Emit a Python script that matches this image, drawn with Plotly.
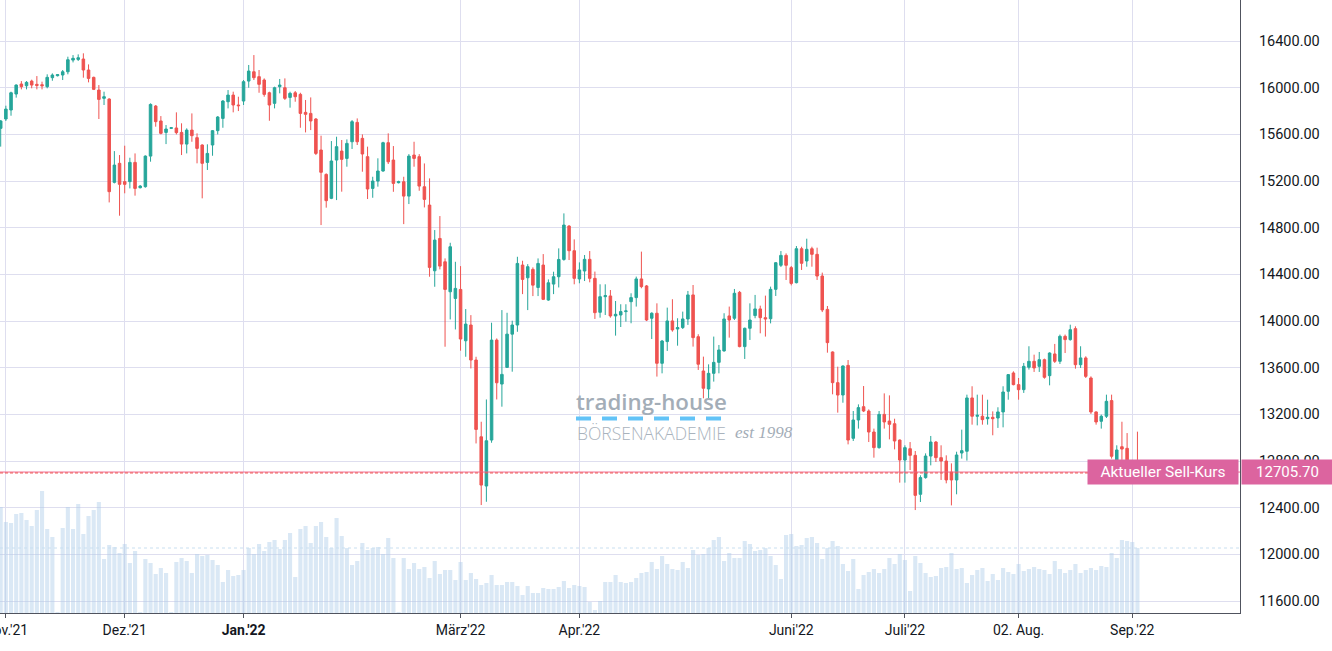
import plotly.graph_objects as go

# ---- data ----
open_ = [15652,15732,15809,15946,16032,16017,16057,16029,16026,16009,16086,16103,16109,16137,16237,16243,16246,16152,16089,15980,
         15909,15903,15189,15352,15195,15195,15360,15143,15152,15414,15843,15715,15617,15652,15655,15617,15517,15637,15572,15509,
         15360,15509,15632,15737,15880,15937,15852,15886,16057,16137,16095,16066,15957,15866,16009,16000,15917,15957,15943,15789,
         15780,15732,15466,15257,15052,15380,15457,15394,15537,15703,15566,15409,15137,15200,15286,15529,15380,15186,15194,15071,
         15423,15409,15151,14994,14431,14708,14508,14251,14194,14271,13831,13966,13666,13008,12586,12980,13837,13460,13603,13888,
         13966,14480,14371,14443,14288,14480,14180,14317,14380,14528,14814,14603,14361,14429,14529,14366,14075,14209,14215,14044,
         14052,14081,14166,14201,14361,14301,14024,14067,13638,13824,14001,13932,13944,14018,14224,13866,13572,13418,13552,13646,
         13744,14044,14024,14246,13781,13938,14047,14104,14029,14020,14272,14478,14563,14458,14329,14620,14515,14620,14572,14386,
         14100,13735,13472,13366,13620,12995,13152,13266,13229,13049,12915,13200,13143,13120,12980,12809,12906,12849,12515,12658,
         12843,12963,12829,12800,12706,12638,12869,12884,13341,13184,13184,13163,13175,13169,13221,13398,13555,13455,13412,13604,
         13655,13612,13669,13532,13718,13655,13869,13841,13935,13626,13684,13512,13221,13141,13184,13318,12780,12923,12909,12790,12800]
high = [15723,15846,15966,16029,16057,16057,16069,16100,16052,16115,16123,16115,16152,16266,16280,16286,16295,16200,16095,16023,
        15966,15910,15457,15423,15503,15400,15437,15166,15420,15866,15852,15757,15680,15663,15789,15695,15652,15780,15609,15515,
        15515,15637,15757,15894,15980,15966,15923,16066,16195,16280,16152,16080,15966,16009,16075,16080,15966,15972,15957,15895,
        15917,15740,15589,15266,15543,15580,15552,15557,15723,15737,15600,15495,15237,15395,15537,15609,15500,15203,15237,15431,
        15537,15431,15351,15223,14780,14900,14537,14671,14508,14471,14103,14051,13694,13137,13328,13986,13851,14094,14071,14003,
        14551,14517,14488,14460,14537,14574,14357,14423,14623,14923,14823,14700,14503,14566,14600,14424,14315,14315,14266,14172,
        14144,14144,14238,14381,14595,14309,14075,14152,13838,14115,14187,14024,14081,14258,14309,13887,13695,13629,13867,13795,
        14067,14124,14275,14258,13944,14152,14224,14132,14218,14295,14506,14600,14580,14472,14643,14637,14706,14637,14629,14415,
        14129,13740,13609,13620,13666,13229,13286,13443,13243,13078,13229,13380,13363,13163,12985,12935,12963,12886,12678,12866,
        13015,12972,12935,12849,12780,12880,13069,13369,13441,13369,13369,13326,13226,13261,13441,13546,13569,13512,13641,13784,
        13712,13735,13678,13732,13804,13884,13884,13969,13955,13784,13698,13526,13226,13198,13369,13369,12935,13137,13040,12810,13052]
low = [15495,15715,15760,15915,15986,15986,15995,15986,15986,15995,16060,16097,16066,16115,16217,16229,16086,16046,15980,15732,
       15852,15017,15180,14903,15095,15137,15075,15137,15143,15366,15666,15600,15517,15646,15600,15423,15437,15537,15352,15052,
       15295,15417,15600,15657,15823,15789,15800,15852,16000,16066,15957,15923,15717,15823,15952,15895,15829,15880,15657,15617,
       15637,15423,14823,14972,15045,15037,15109,15323,15475,15509,15280,15046,15057,15152,15280,15346,15108,15180,14831,15003,
       15323,15117,14974,14380,14294,14443,13780,14014,13928,13746,13694,13594,12951,12423,12451,12957,13328,13266,13600,13566,
       13908,14231,14094,14214,14214,14180,14174,14231,14288,14517,14523,14315,14324,14343,14332,14018,14029,14052,14029,13875,
       13949,13995,13981,14124,14281,14000,13846,13524,13552,13744,13909,13789,13932,13967,13781,13581,13338,13338,13481,13552,
       13738,13858,14009,13775,13675,13838,14024,13895,13867,13980,14215,14463,14352,14306,14323,14438,14466,14466,14352,14077,
       13729,13372,13215,13300,12943,12972,13078,13220,12963,12829,12906,13078,12986,12900,12615,12615,12723,12380,12449,12649,
       12763,12792,12638,12609,12420,12515,12821,12804,13112,13106,13112,13112,13021,13084,13089,13326,13449,13326,13384,13584,
       13564,13564,13506,13449,13641,13632,13726,13832,13592,13598,13512,13204,13112,13078,13169,12821,12740,12810,12740,12720,12660]
close = [15715,15817,15957,16023,16009,16046,16023,16020,16017,16089,16109,16112,16137,16240,16252,16257,16152,16080,15986,15900,
         15923,15109,15337,15172,15172,15360,15137,15157,15414,15857,15709,15609,15646,15657,15615,15517,15637,15589,15480,15352,
         15437,15632,15749,15886,15937,15852,15846,16052,16143,16086,16029,15943,15852,16000,16023,15909,15952,15923,15780,15772,
         15715,15437,15275,15032,15372,15495,15386,15523,15709,15537,15432,15132,15200,15286,15529,15365,15180,15194,15071,15414,
         15394,15157,15043,14460,14694,14471,14271,14637,14280,13846,13974,13666,13071,12594,12974,13837,13471,13543,13888,13966,
         14494,14357,14466,14308,14494,14186,14328,14380,14528,14823,14603,14366,14438,14529,14366,14072,14209,14218,14044,14058,
         14081,14087,14201,14361,14295,14009,14067,13638,13829,14001,13924,13944,14018,14224,13858,13630,13424,13552,13646,13752,
         14018,14009,14238,13781,13938,14009,14104,14029,14018,14272,14500,14563,14478,14323,14620,14495,14615,14572,14386,14095,
         13815,13472,13366,13615,12980,13152,13258,13229,13049,12915,13200,13135,13115,12972,12809,12915,12849,12506,12658,12843,
         12963,12829,12800,12638,12638,12852,12889,13341,13184,13192,13155,13175,13163,13221,13392,13541,13455,13412,13612,13655,
         13598,13669,13518,13726,13655,13869,13841,13926,13626,13684,13526,13221,13135,13184,13312,12841,12895,12903,12780,12760,12698]
volume = [106,91,90,99,100,93,87,103,122,84,76,1,85,106,84,109,79,97,103,111,
          54,68,66,60,69,50,62,1,54,50,39,45,40,1,51,55,52,40,59,57,
          58,53,48,31,43,37,38,43,65,59,69,62,71,73,64,73,80,36,84,87,
          70,87,91,76,65,95,77,65,48,52,70,63,65,66,59,75,55,1,55,44,
          50,44,46,35,52,39,43,43,33,51,33,40,34,28,30,38,28,28,31,31,
          27,18,27,20,20,25,24,24,26,32,25,28,27,26,11,3,12,31,31,38,
          31,30,31,35,40,41,51,44,57,49,44,43,51,45,63,58,59,65,73,76,
          52,60,55,55,72,69,62,63,65,57,48,34,78,79,67,68,75,76,70,54,
          65,72,67,49,42,54,24,38,41,44,40,44,55,49,59,53,22,57,50,40,
          36,37,45,46,60,44,45,30,38,43,45,32,39,33,45,41,39,49,42,44,
          46,44,43,39,52,44,40,43,49,40,43,45,43,47,46,60,55,73,72,71,65]
session = list(range(len(close)))

month_pos = [1, 24, 47, 89, 112, 153, 175, 197, 219]
month_labels = ["Nov.'21", "Dez.'21", "<b>Jan.'22</b>", "März'22", "Apr.'22",
                "Juni'22", "Juli'22", "02. Aug.", "Sep.'22"]
price_ticks = [11600, 12000, 12400, 12800, 13200, 13600, 14000, 14400,
               14800, 15200, 15600, 16000, 16400]
sell_price = 12705.70

# ---- style ----
GREEN = "#26a69a"
RED = "#ef5350"
GRID = "#dedeef"
PINK = "#dc649f"
TXT = "#131722"
W, H = 1332, 651
PLOT_W, PLOT_H = 1240, 613

fig = go.Figure()
fig.add_trace(go.Bar(
    x=session, y=volume, yaxis="y2",
    marker=dict(color="rgba(173,205,232,0.45)", line=dict(width=0)),
    width=0.8, hoverinfo="skip", showlegend=False))
fig.add_trace(go.Candlestick(
    x=session, open=open_, high=high, low=low, close=close,
    increasing=dict(line=dict(color=GREEN, width=1), fillcolor=GREEN),
    decreasing=dict(line=dict(color=RED, width=1), fillcolor=RED),
    whiskerwidth=0, showlegend=False))

shapes = [
    dict(type="line", xref="paper", yref="y", x0=0, x1=1, y0=sell_price, y1=sell_price,
         line=dict(color="#f0668f", width=1)),
    dict(type="line", xref="paper", yref="y", x0=0, x1=1, y0=close[-1], y1=close[-1],
         line=dict(color=RED, width=1, dash="3px,2px")),
    dict(type="line", xref="paper", yref="y2", x0=0, x1=1, y0=volume[-1], y1=volume[-1],
         line=dict(color="#c9dff0", width=1, dash="3px,3px")),
    dict(type="line", xref="paper", yref="paper", x0=576 / PLOT_W, x1=727 / PLOT_W,
         y0=1 - 418.5 / PLOT_H, y1=1 - 418.5 / PLOT_H,
         line=dict(color="#62c3f7", width=4, dash="15px,11px")),
]

annotations = [
    dict(text="trading-house", xref="paper", yref="paper", x=574 / PLOT_W, y=1 - 401 / PLOT_H,
         xanchor="left", yanchor="middle", showarrow=False,
         font=dict(family="Open Sans", size=22.3, color="#a3adb7", weight=600)),
    dict(text="BÖRSENAKADEMIE", xref="paper", yref="paper", x=575 / PLOT_W, y=1 - 433 / PLOT_H,
         xanchor="left", yanchor="middle", showarrow=False,
         font=dict(family="Open Sans", size=17.5, color="#a9b3bd", weight=300)),
    dict(text="<i>est 1998</i>", xref="paper", yref="paper", x=733 / PLOT_W, y=1 - 432 / PLOT_H,
         xanchor="left", yanchor="middle", showarrow=False,
         font=dict(family="Liberation Serif", size=17, color="#a3adb7")),
    dict(text="Aktueller Sell-Kurs", xref="paper", yref="y", x=1, y=sell_price,
         xanchor="right", yanchor="middle", xshift=-1, showarrow=False,
         width=146, height=20, borderpad=2, bgcolor=PINK, align="center",
         font=dict(family="Roboto", size=15.5, color="white")),
    dict(text=f"{sell_price:.2f}", xref="paper", yref="y", x=1, y=sell_price,
         xanchor="left", yanchor="middle", xshift=1, showarrow=False,
         width=87, height=20, borderpad=2, bgcolor=PINK, align="center",
         font=dict(family="Roboto", size=15, color="white")),
]

fig.update_layout(
    width=W, height=H,
    margin=dict(l=0, r=W - PLOT_W, t=0, b=H - PLOT_H, autoexpand=False),
    paper_bgcolor="white", plot_bgcolor="white",
    bargap=0.2,
    xaxis=dict(
        range=[-0.135, 239.85], rangeslider=dict(visible=False),
        automargin=False,
        tickmode="array", tickvals=month_pos, ticktext=month_labels,
        showgrid=True, gridcolor=GRID, gridwidth=1, zeroline=False,
        showline=True, linecolor="#50535e", linewidth=1,
        ticks="outside", ticklen=4, tickcolor="#50535e",
        ticklabeloverflow="allow",
        tickfont=dict(family="Roboto", size=14, color=TXT)),
    yaxis=dict(
        range=[11497.6, 16752], side="right", automargin=False,
        tickmode="array", tickvals=price_ticks, tickformat=".2f",
        showgrid=True, gridcolor=GRID, gridwidth=1, zeroline=False,
        showline=True, linecolor="#50535e", linewidth=1,
        ticks="", ticklabelstandoff=15,
        tickfont=dict(family="Roboto", size=14.5, color=TXT)),
    yaxis2=dict(range=[0, PLOT_H], overlaying="y", visible=False, fixedrange=True),
    shapes=shapes, annotations=annotations,
)

fig.write_html("out.html")
